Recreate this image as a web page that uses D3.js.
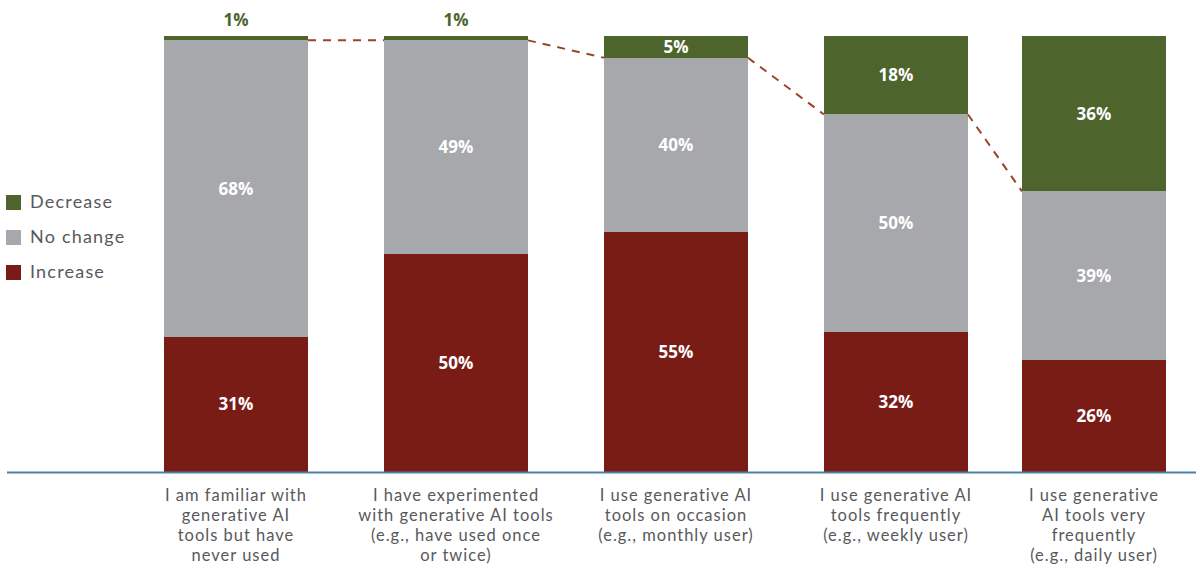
<!DOCTYPE html>
<html>
<head>
<meta charset="utf-8">
<script src="https://cdn.jsdelivr.net/npm/d3@7"></script>
<style>
  html, body { margin: 0; padding: 0; background: #fff; }
  svg { display: block; font-family: "Lato", "Open Sans", sans-serif; }
</style>
</head>
<body>
<svg id="chart" width="1196" height="569"></svg>
<script>
// Usage groups (x categories), one label line per array entry
const categories = [
  ["I am familiar with", "generative AI", "tools but have", "never used"],
  ["I have experimented", "with generative AI tools", "(e.g., have used once", "or twice)"],
  ["I use generative AI", "tools on occasion", "(e.g., monthly user)"],
  ["I use generative AI", "tools frequently", "(e.g., weekly user)"],
  ["I use generative", "AI tools very", "frequently", "(e.g., daily user)"]
];
const categoryKeys = categories.map(c => c.join(" "));

// Stacked series, bottom to top
const seriesNames = ["Increase", "No change", "Decrease"];
const increase = [31, 50, 55, 32, 26];
const noChange = [68, 49, 40, 50, 39];
const decrease = [1, 1, 5, 18, 36];

const colors = { "Increase": "#7a1c16", "No change": "#a7a8ac", "Decrease": "#4d652d" };
const legendOrder = ["Decrease", "No change", "Increase"];

const rows = categoryKeys.map((k, i) => ({
  key: k, "Increase": increase[i], "No change": noChange[i], "Decrease": decrease[i]
}));

const svg = d3.select("#chart");

const x = d3.scaleOrdinal().domain(categoryKeys).range([236, 456, 676, 896, 1094]);
const barW = 144;
const y = d3.scaleLinear().domain([0, 1]).range([472, 36]);

const stack = d3.stack().keys(seriesNames).offset(d3.stackOffsetExpand);
const layers = stack(rows);

// Bars
const g = svg.append("g").attr("shape-rendering", "crispEdges");
layers.forEach(layer => {
  g.selectAll(null)
    .data(layer)
    .join("rect")
    .attr("x", d => x(d.data.key) - barW / 2)
    .attr("width", barW)
    .attr("y", d => y(d[1]))
    .attr("height", d => y(d[0]) - y(d[1]))
    .attr("fill", colors[layer.key]);
});

// Dashed connector between the tops of the "No change" segments
const nc = layers[1];
const pts = [];
nc.forEach((d, i) => {
  if (i > 0) pts.push([x(d.data.key) - barW / 2, y(d[1])]);
  if (i < nc.length - 1) pts.push([x(d.data.key) + barW / 2, y(d[1])]);
});
for (let i = 0; i < pts.length; i += 2) {
  svg.append("line")
    .attr("x1", pts[i][0]).attr("y1", pts[i][1])
    .attr("x2", pts[i + 1][0]).attr("y2", pts[i + 1][1])
    .attr("stroke", "#9b4526")
    .attr("stroke-width", 2)
    .attr("stroke-dasharray", "8,7");
}

// Value labels
layers.forEach(layer => {
  layer.forEach((d, i) => {
    const v = d.data[layer.key];
    const small = (y(d[0]) - y(d[1])) < 14;
    svg.append("text")
      .attr("x", x(d.data.key))
      .attr("y", small ? 20 : (y(d[0]) + y(d[1])) / 2)
      .attr("dy", "0.35em")
      .attr("text-anchor", "middle")
      .attr("font-family", "'Open Sans', sans-serif")
      .attr("font-size", 17)
      .attr("font-weight", 700)
      .attr("fill", small ? colors[layer.key] : "#fff")
      .text(v + "%");
  });
});

// Baseline
svg.append("line")
  .attr("x1", 7).attr("x2", 1196)
  .attr("y1", 472.5).attr("y2", 472.5)
  .attr("stroke", "#4d81a8")
  .attr("stroke-width", 2);

// Category labels
categories.forEach((lines, i) => {
  const t = svg.append("text")
    .attr("text-anchor", "middle")
    .attr("font-size", 16.5)
    .attr("letter-spacing", 1)
    .attr("fill", "#58595b");
  lines.forEach((ln, j) => {
    t.append("tspan")
      .attr("x", x(categoryKeys[i]))
      .attr("y", 501 + j * 20)
      .text(ln);
  });
});

// Legend
const lg = svg.append("g");
legendOrder.forEach((name, i) => {
  const yy = 202 + i * 35;
  lg.append("rect")
    .attr("x", 6).attr("y", yy - 7)
    .attr("width", 15).attr("height", 15)
    .attr("fill", colors[name]);
  lg.append("text")
    .attr("x", 30).attr("y", yy)
    .attr("dy", "0.35em")
    .attr("font-size", 18)
    .attr("letter-spacing", 1.2)
    .attr("fill", "#58595b")
    .text(name);
});
</script>
</body>
</html>
